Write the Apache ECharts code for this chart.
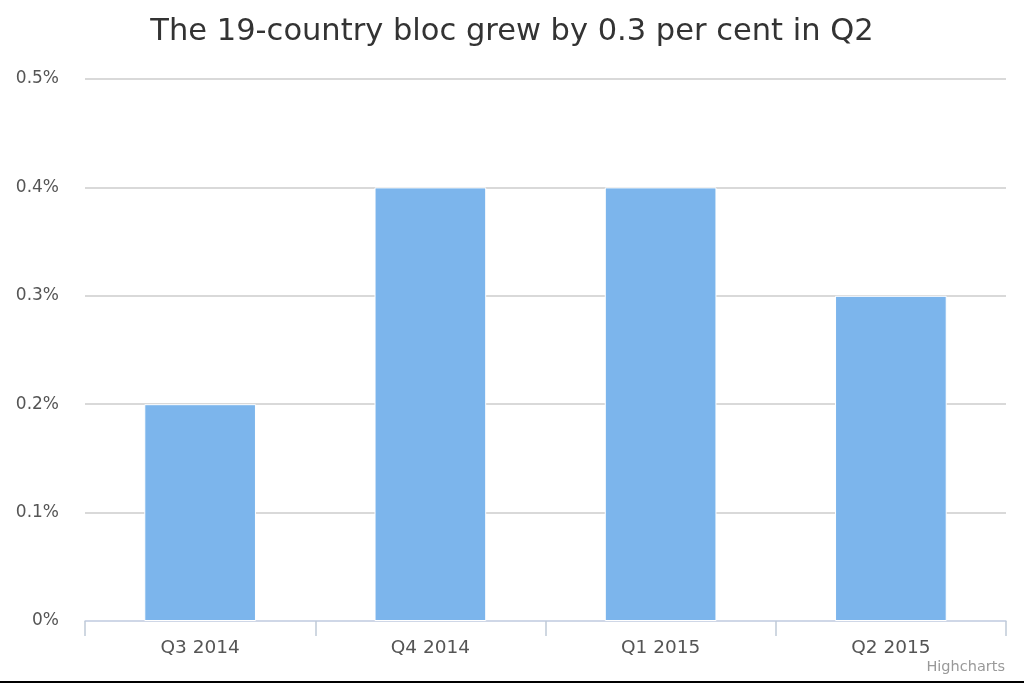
<!DOCTYPE html>
<html>
<head>
<meta charset="utf-8">
<script src="https://cdn.jsdelivr.net/npm/echarts@6/dist/echarts.min.js"></script>
<style>
html,body{margin:0;padding:0;background:#fff;}
#main{width:1024px;height:683px;}
</style>
</head>
<body>
<div id="main"></div>
<script>
var titleText = 'The 19-country bloc grew by 0.3 per cent in Q2';
var categories = ['Q3 2014', 'Q4 2014', 'Q1 2015', 'Q2 2015'];
var growth = [0.2, 0.4, 0.4, 0.3];
var yTicks = [0, 0.1, 0.2, 0.3, 0.4, 0.5];

var chart = echarts.init(document.getElementById('main'));
chart.setOption({
  backgroundColor: '#ffffff',
  animation: false,
  title: {
    text: titleText,
    left: 'center',
    top: 12,
    textStyle: { fontFamily: 'DejaVu Sans', fontSize: 30.5, fontWeight: 'normal', color: '#333333' }
  },
  grid: { left: 85, right: 18, top: 79, bottom: 62 },
  xAxis: {
    type: 'category',
    data: categories,
    axisLine: { lineStyle: { color: '#ccd6eb', width: 1.5 } },
    axisTick: { show: true, length: 15, lineStyle: { color: '#c0cad8', width: 1.5 } },
    axisLabel: { fontFamily: 'DejaVu Sans', fontSize: 18.5, color: '#555555', margin: 18 }
  },
  yAxis: {
    type: 'value',
    min: yTicks[0],
    max: yTicks[yTicks.length - 1],
    interval: 0.1,
    axisLine: { show: false },
    axisTick: { show: false },
    splitLine: { lineStyle: { color: '#cccccc', width: 1.5 } },
    axisLabel: {
      fontFamily: 'DejaVu Sans', fontSize: 17, color: '#555555', margin: 26,
      padding: [5, 0, 0, 0],
      formatter: function (v) { return (Math.round(v * 10) / 10) + '%'; }
    }
  },
  series: [{
    type: 'bar',
    data: growth,
    barCategoryGap: '51.5%',
    itemStyle: { color: '#7cb5ec', borderColor: '#ffffff', borderWidth: 1 }
  }],
  graphic: [
    {
      type: 'text', right: 19, bottom: 8,
      style: { text: 'Highcharts', fontFamily: 'DejaVu Sans', fontSize: 14.5, fill: '#999999' }
    },
    {
      type: 'rect', left: 0, bottom: 0,
      shape: { width: 1024, height: 2 },
      style: { fill: '#000000' }
    }
  ]
});
</script>
</body>
</html>
